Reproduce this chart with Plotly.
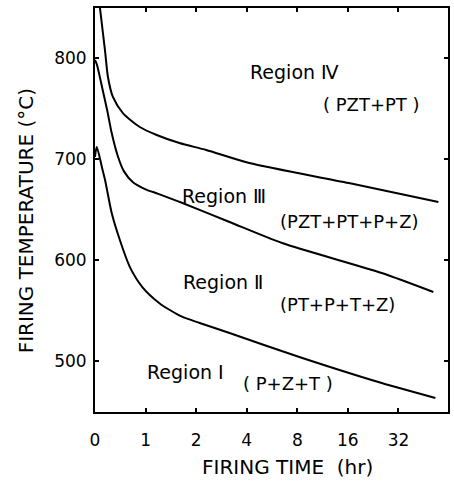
import plotly.graph_objects as go

# Firing time axis: labels placed at equally spaced positions (0,1,2,4,8,16,32 hr)
tick_pos = [0, 1, 2, 3, 4, 5, 6]
tick_labels = ["0", "1", "2", "4", "8", "16", "32"]

# Boundary curves (x = position on the firing-time axis, y = firing temperature in °C)
b43_x = [0.098, 0.197, 0.256, 0.354, 0.551, 0.886, 1.22, 1.67, 2.20, 3.05, 5.02, 6.79]
b43_y = [849.5, 807.9, 781.2, 761.4, 745.5, 731.7, 723.8, 715.8, 708.9, 696.0, 676.2, 657.4]

b32_x = [0.0, 0.04, 0.14, 0.24, 0.33, 0.45, 0.57, 0.75, 1.0, 1.25, 1.73, 2.66, 3.70, 5.67, 6.69]
b32_y = [798, 793, 771, 748.5, 725.7, 703, 688, 677, 670, 665.5, 656.4, 637.6, 616.8, 587.1, 568.3]

b21_x = [0.0, 0.035, 0.15, 0.20, 0.33, 0.49, 0.69, 0.94, 1.28, 1.48, 1.73, 2.07, 2.66, 4.04, 5.67, 6.73]
b21_y = [702, 712, 689, 679, 646.5, 620, 593, 573, 557, 550.5, 543.6, 537.6, 527.7, 504, 478.2, 463.4]

y_ticks = [500, 600, 700, 800]

labels_text = ["Region Ⅳ", "( PZT+PT )", "Region Ⅲ", "(PZT+PT+P+Z)",
               "Region Ⅱ", "(PT+P+T+Z)", "Region I", "( P+Z+T )"]
labels_x = [3.94, 5.47, 2.56, 5.04, 2.54, 4.80, 1.78, 3.82]
labels_y = [786, 753.5, 663, 638.6, 578, 556, 489, 478]
labels_size = [19, 18, 19, 18, 19, 18, 19, 18]

FONT = "DejaVu Sans"

fig = go.Figure()
for xs, ys in [(b43_x, b43_y), (b32_x, b32_y), (b21_x, b21_y)]:
    fig.add_trace(go.Scatter(x=xs, y=ys, mode="lines",
                             line=dict(color="black", width=2, shape="spline", smoothing=0.7),
                             showlegend=False, hoverinfo="skip"))

for t, x, y, s in zip(labels_text, labels_x, labels_y, labels_size):
    fig.add_annotation(x=x, y=y, text=t, showarrow=False,
                       font=dict(family=FONT, size=s, color="black"),
                       xanchor="center", yanchor="middle")

fig.add_annotation(x=-0.197, y=0.473, xref="paper", yref="paper",
                   text="FIRING TEMPERATURE (°C)", textangle=-90, showarrow=False,
                   font=dict(family=FONT, size=20, color="black"),
                   xanchor="center", yanchor="middle")
fig.add_annotation(x=0.544, y=-0.136, xref="paper", yref="paper",
                   text="FIRING TIME  (hr)", showarrow=False,
                   font=dict(family=FONT, size=20, color="black"),
                   xanchor="center", yanchor="middle")

axis_common = dict(showline=True, linecolor="black", linewidth=2, mirror="ticks",
                   ticks="inside", ticklen=4, tickwidth=1.5, tickcolor="black",
                   showgrid=False, zeroline=False,
                   tickfont=dict(family=FONT, size=17, color="black"))

fig.update_xaxes(range=[0, 6.98], tickvals=tick_pos, ticktext=tick_labels,
                 ticklabelstandoff=12, **axis_common)
fig.update_yaxes(range=[449.5, 849.5], tickvals=y_ticks,
                 ticklabelstandoff=3, **axis_common)

fig.update_layout(width=454, height=486,
                  margin=dict(l=95, r=4, t=8, b=74),
                  paper_bgcolor="white", plot_bgcolor="white")

fig.write_html("out.html")
